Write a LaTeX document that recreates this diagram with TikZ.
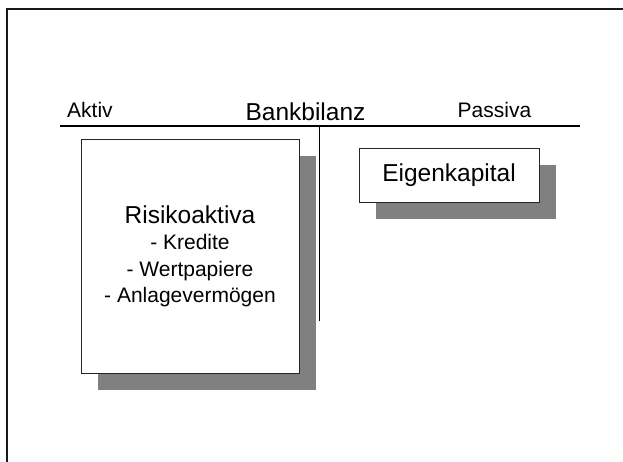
\documentclass[tikz,border=0pt]{standalone}
\usepackage{fontspec}
\setmainfont{Liberation Sans}
\usetikzlibrary{shadows}
\definecolor{shadowgray}{HTML}{808080}
\tikzset{
  boxnode/.style={draw=black!85, line width=0.9pt, fill=white, inner sep=0pt,
    drop shadow={shadow xshift=17pt, shadow yshift=-17pt, fill=shadowgray, opacity=1}},
  lbl/.style={inner sep=0pt, anchor=base},
  sz21/.style={font=\fontsize{21}{25}\selectfont},
  sz24/.style={font=\fontsize{24.5}{29}\selectfont},
  rule/.style={line width=2pt, draw=black}
}
\begin{document}
\begin{tikzpicture}[x=1pt, y=-1pt]
\useasboundingbox (0,0) rectangle (623,462);
% frame
\draw[line width=2.2pt, black!90] (7,463) -- (7,9) -- (624,9);
% titles
\node[lbl, sz21, anchor=base west] (aktiv) at (67,118) {Aktiv};
\node[lbl, sz24] (bank) at (305.5,121) {Bankbilanz};
\node[lbl, sz21] (passiva) at (494.5,118) {Passiva};
% T-account lines
\coordinate (hl) at (60,126);
\coordinate (hr) at (580,126);
\coordinate (vt) at (319.5,126);
\coordinate (vb) at (319.5,321);
\draw[rule] (hl) -- (hr);
\draw[line width=1.8pt] (vt) -- (vb);
% boxes
\node[boxnode, minimum width=218pt, minimum height=234pt] (risk) at (190,256) {};
\node[boxnode, sz24, minimum width=180pt, minimum height=54pt] (eigen) at (449,175) {Eigenkapital};
% text in left box
\node[lbl, sz24] (t1) at (190,223) {Risikoaktiva};
\node[lbl, sz21] (t2) at (190,249) {- Kredite};
\node[lbl, sz21] (t3) at (190,276) {- Wertpapiere};
\node[lbl, sz21] (t4) at (190,302) {- Anlagevermögen};
\end{tikzpicture}
\end{document}
